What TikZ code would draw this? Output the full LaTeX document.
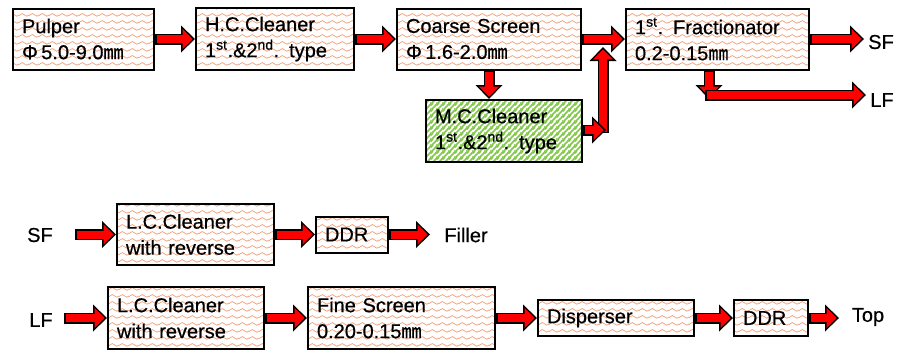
\documentclass[tikz,border=0pt]{standalone}
\usepackage{fontspec}
\setmainfont{Liberation Sans}[FakeBold=0.5]
\newfontfamily\cjkfont{Noto Sans CJK JP}[FakeBold=0.5]
\usetikzlibrary{arrows.meta,patterns.meta}

\definecolor{waveorange}{RGB}{244,160,122}
\definecolor{stripegreen}{RGB}{130,198,74}
\definecolor{arrowred}{RGB}{255,0,0}

\newcommand{\mmunit}{{\cjkfont ㎜}}

\tikzdeclarepattern{
  name=orangewaves,
  type=colored,
  bottom left={(0pt,0pt)},
  top right={(10pt,7pt)},
  tile size={(10pt,7pt)},
  code={
    \draw[waveorange,line width=0.8pt] (0pt,3.5pt) sin (2.5pt,5pt) cos (5pt,3.5pt) sin (7.5pt,2pt) cos (10pt,3.5pt);
  }
}
\tikzdeclarepattern{
  name=greenstripes,
  type=colored,
  bottom left={(0pt,0pt)},
  top right={(6pt,6pt)},
  tile size={(6pt,6pt)},
  code={
    \draw[stripegreen,line width=2pt] (-1pt,-1pt) -- (7pt,7pt) (-1pt,5pt) -- (1pt,7pt) (5pt,-1pt) -- (7pt,1pt);
  }
}

\begin{document}
\begin{tikzpicture}[x=1pt,y=-1pt]
\tikzset{
  procnode/.style={draw=black,line width=2pt,preaction={fill=white},pattern=orangewaves,align=left,inner xsep=9pt,inner ysep=0pt,font=\fontsize{20}{26}\selectfont},
  greennode/.style={procnode,pattern=greenstripes},
  textlabel/.style={inner sep=0pt,font=\fontsize{20}{26}\selectfont},
  flowarrow/.style={draw=black,line width=11pt,-{Triangle[length=14pt,width=27pt,line width=0pt]},
    postaction={draw=arrowred,line width=8pt,-{Triangle[length=10pt,width=20pt,line width=0pt]},shorten >=2.3pt,shorten <=1.5pt}}
}
\useasboundingbox (0,0) rectangle (904,354);
% main line
\node[procnode,text width=123pt,minimum height=61pt] (pulper) at (83.5,39) {Pulper\\Φ\,5.0-9.0\mmunit};
\node[procnode,text width=140pt,minimum height=62pt] (hcc) at (275,39) {H.C.Cleaner\\1\textsuperscript{st}.\&2\textsuperscript{nd}. type};
\node[procnode,text width=166pt,minimum height=61pt] (coarse) at (489,39) {Coarse Screen\\Φ\,1.6-2.0\mmunit};
\node[procnode,text width=165pt,minimum height=61pt] (frac) at (717.5,39) {1\textsuperscript{st}. Fractionator\\0.2-0.15\mmunit};
\node[greennode,text width=138pt,minimum height=62pt] (mcc) at (504,131) {M.C.Cleaner\\1\textsuperscript{st}.\&2\textsuperscript{nd}. type};
\node[textlabel] (sfout) at (881,42) {SF};
\node[textlabel] (lfout) at (882,100) {LF};
\coordinate (mcout) at (606,130);
\coordinate (mcbase) at (603,133);
\coordinate (mcup) at (603,47);
\coordinate (sfend) at (864,39);
\coordinate (lfdrop) at (709,99);
\coordinate (lfbend) at (705,95);
\coordinate (lfend) at (866,95);
\draw[flowarrow] (pulper.east) -- (hcc.west);
\draw[flowarrow] (hcc.east) -- (coarse.west);
\draw[flowarrow] (coarse.east) -- (frac.west);
\draw[flowarrow] (coarse.south) -- (coarse.south |- mcc.north);
\draw[flowarrow] (mcbase) -- (mcup);
\draw[flowarrow] (mcc.east |- mcout) -- (mcout);
\draw[flowarrow] (frac.east |- sfend) -- (sfend);
\draw[flowarrow] (frac.south -| lfdrop) -- (lfdrop);
\draw[flowarrow] (lfbend) -- (lfend);
% SF line
\node[textlabel] (sfin) at (40,235) {SF};
\node[procnode,text width=139pt,minimum height=61pt] (lc1) at (195.5,234.5) {L.C.Cleaner\\with reverse};
\node[procnode,text width=54pt,minimum height=36pt] (ddr1) at (352,234.5) {DDR};
\node[textlabel] (filler) at (466,235) {Filler};
\coordinate (sfstart) at (75,234.5);
\coordinate (fillerend) at (430,234.5);
\draw[flowarrow] (sfstart) -- (lc1.west);
\draw[flowarrow] (lc1.east) -- (ddr1.west);
\draw[flowarrow] (ddr1.east) -- (fillerend);
% LF line
\node[textlabel] (lfin) at (41,320) {LF};
\node[procnode,text width=138pt,minimum height=62pt] (lc2) at (186,318) {L.C.Cleaner\\with reverse};
\node[procnode,text width=169pt,minimum height=62pt] (fine) at (401.5,318) {Fine Screen\\0.20-0.15\mmunit};
\node[procnode,text width=138pt,minimum height=36pt] (disp) at (616,318) {Disperser};
\node[procnode,text width=56pt,minimum height=36pt] (ddr2) at (771,318) {DDR};
\node[textlabel] (top) at (868,317) {Top};
\coordinate (lfstart) at (64,318);
\coordinate (topend) at (839,318);
\draw[flowarrow] (lfstart) -- (lc2.west);
\draw[flowarrow] (lc2.east) -- (fine.west);
\draw[flowarrow] (fine.east) -- (disp.west);
\draw[flowarrow] (disp.east) -- (ddr2.west);
\draw[flowarrow] (ddr2.east) -- (topend);
\end{tikzpicture}
\end{document}
